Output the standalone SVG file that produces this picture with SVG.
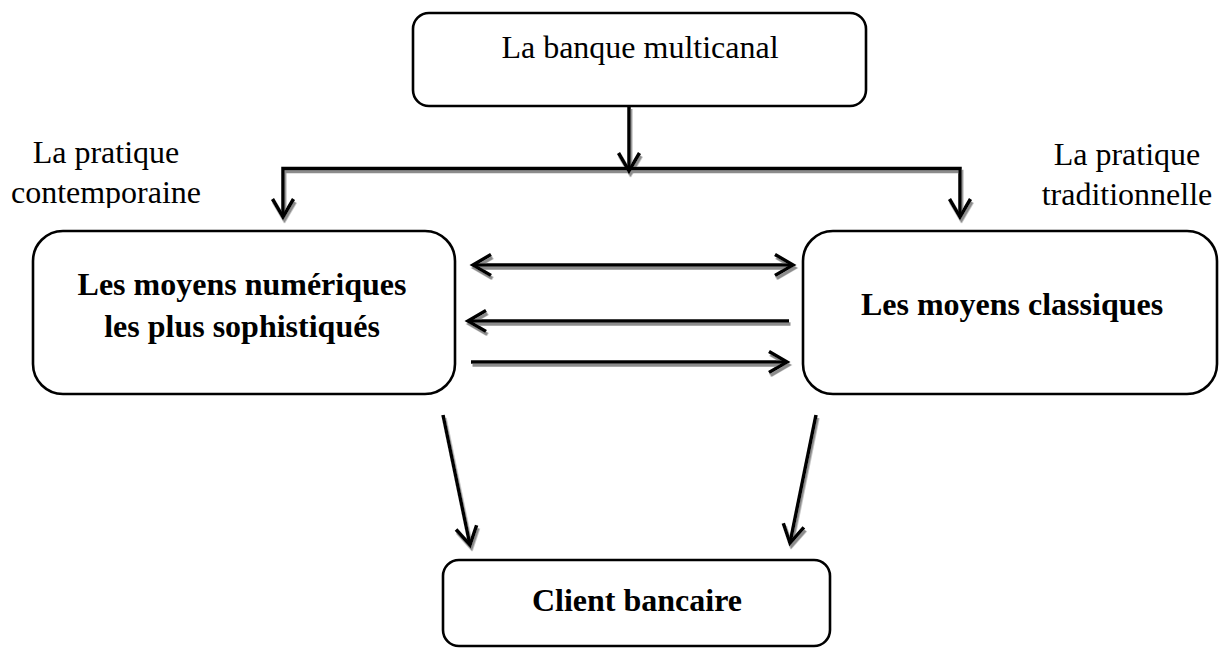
<svg xmlns="http://www.w3.org/2000/svg" width="1219" height="648" viewBox="0 0 1219 648">
  <style>
    .box { fill: #fff; stroke: #000; stroke-width: 2.6; }
    .txt { font-family: "Liberation Serif", "Times New Roman", serif; font-size: 32px; fill: #000; text-anchor: middle; }
    .bold { font-weight: bold; }
    .link { fill: none; stroke: #000; stroke-width: 3.5; }
  </style>
  <defs>
    <!-- open chevron arrowhead -->
    <marker id="chev" markerUnits="userSpaceOnUse" markerWidth="30" markerHeight="30"
            viewBox="-22 -15 30 30" refX="0" refY="0" orient="auto-start-reverse" overflow="visible">
      <path d="M-18,-10.5 L0,0 L-18,10.5" fill="none" stroke="#000" stroke-width="3.5"/>
    </marker>
    <!-- soft grey offset shadow under the connectors -->
    <filter id="shade" filterUnits="userSpaceOnUse" x="0" y="0" width="1219" height="648">
      <feDropShadow dx="1.5" dy="3" stdDeviation="0.6" flood-color="#8c8c8c" flood-opacity="1"/>
    </filter>
    <!-- side captions are cut off just below their second line -->
    <clipPath id="capClip">
      <rect x="0" y="120" width="1219" height="88"/>
    </clipPath>
  </defs>

  <!-- side captions -->
  <g id="caption-left" clip-path="url(#capClip)">
    <text class="txt" x="106" y="163">La pratique</text>
    <text class="txt" x="106" y="203">contemporaine</text>
  </g>
  <g id="caption-right" clip-path="url(#capClip)">
    <text class="txt" x="1127" y="165">La pratique</text>
    <text class="txt" x="1127" y="205">traditionnelle</text>
  </g>

  <!-- connectors -->
  <g id="connectors" class="link" filter="url(#shade)">
    <path d="M629,106 V171" marker-end="url(#chev)"/>
    <path d="M283,217 V168.5 H960 V217" marker-start="url(#chev)" marker-end="url(#chev)"/>
    <path d="M473,265 H793" marker-start="url(#chev)" marker-end="url(#chev)"/>
    <path d="M789,321 H468" marker-end="url(#chev)"/>
    <path d="M471,362 H787" marker-end="url(#chev)"/>
    <path d="M443,415 L470,545" marker-end="url(#chev)"/>
    <path d="M816,415 L790,543" marker-end="url(#chev)"/>
  </g>

  <!-- nodes -->
  <g id="node-banque">
    <rect class="box" x="413" y="13" width="453" height="93" rx="16"/>
    <text class="txt" x="640" y="58">La banque multicanal</text>
  </g>
  <g id="node-numeriques">
    <rect class="box" x="33" y="231" width="422" height="163" rx="30"/>
    <text class="txt bold" x="242" y="295">Les moyens numériques</text>
    <text class="txt bold" x="242" y="337">les plus sophistiqués</text>
  </g>
  <g id="node-classiques">
    <rect class="box" x="803" y="231" width="414" height="163" rx="30"/>
    <text class="txt bold" x="1012" y="315">Les moyens classiques</text>
  </g>
  <g id="node-client">
    <rect class="box" x="443" y="560" width="387" height="86" rx="16"/>
    <text class="txt bold" x="637" y="611">Client bancaire</text>
  </g>
</svg>
